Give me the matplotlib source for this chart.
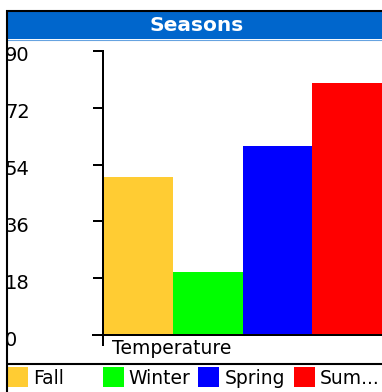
import matplotlib
matplotlib.use("Agg")
import matplotlib.pyplot as plt
import matplotlib.transforms as mtransforms
from matplotlib.patches import Rectangle

W, H = 382, 392

title = "Seasons"
series_name = "Temperature"
seasons = ["Fall", "Winter", "Spring", "Sum..."]
temps = [50, 20, 60, 80]
colors = ["#FFCC33", "#00FF00", "#0000FF", "#FF0000"]
yticks = [0, 18, 36, 54, 72, 90]

plt.rcParams["font.family"] = "DejaVu Sans"

fig = plt.figure(figsize=(W / 100, H / 100), dpi=100)
fig.patch.set_facecolor("white")


def overlay(z):
    # full-figure axes in pixel units, y pointing down
    a = fig.add_axes([0, 0, 1, 1], zorder=z)
    a.set_xlim(0, W)
    a.set_ylim(H, 0)
    a.axis("off")
    a.patch.set_alpha(0)
    return a


bg = overlay(0)

# title bar
bg.add_patch(Rectangle((7, 11), W - 7, 28, facecolor="#0066CC", edgecolor="none"))
bg.plot([7, W], [39.5, 39.5], color="#66A3E0", lw=0.8)
bg.text(197, 25, title, color="white", fontsize=14.5, fontweight="bold",
        ha="center", va="center")

# series label and separator
bg.text(112, 349, series_name, fontsize=13.5, ha="left", va="center")
bg.plot([6, W], [364, 364], color="black", lw=1.5, solid_capstyle="butt")

# legend in fixed-width slots
for i, (name, c) in enumerate(zip(seasons, colors)):
    x0 = 7 + i * 95.7
    bg.add_patch(Rectangle((x0, 367), 21, 20, facecolor=c, edgecolor="none"))
    bg.text(x0 + 26, 378, name, fontsize=13.5, ha="left", va="center")

# main chart
ax = fig.add_axes([103 / W, (H - 335) / H, (W - 103) / W, (335 - 51) / H], zorder=1)
ax.patch.set_alpha(0)
ax.bar(range(len(temps)), temps, width=1.0, color=colors, edgecolor="none")
ax.set_xlim(-0.5, len(temps) - 0.5)
ax.set_ylim(0, 90)
ax.set_xticks([])
ax.set_yticks(yticks)
ax.set_yticklabels([])
ax.tick_params(axis="y", direction="out", length=7.2, width=1.44)
for s in ["top", "right"]:
    ax.spines[s].set_visible(False)
ax.spines["left"].set_linewidth(1.44)
ax.spines["bottom"].set_linewidth(1.44)
ax.spines["left"].set_bounds(-3.2, 90)
ax.spines["bottom"].set_bounds(-0.5 - 10 / 69.75, len(temps) - 0.5)

# y labels flush with the left edge, a little below their ticks
lab_tr = mtransforms.offset_copy(
    mtransforms.blended_transform_factory(fig.transFigure, ax.transData),
    fig=fig, y=-3, units="dots")
for v in yticks:
    ax.text(5 / W, v, str(v), transform=lab_tr, fontsize=14,
            ha="left", va="center_baseline", clip_on=False)

# frame: white margin on top/left with black border
top = overlay(2)
top.add_patch(Rectangle((0, 0), 6, H, facecolor="white", edgecolor="none"))
top.add_patch(Rectangle((0, 0), W, 10, facecolor="white", edgecolor="none"))
top.plot([6.5, 6.5], [10, H], color="black", lw=1.5, solid_capstyle="butt")
top.plot([6, W], [10.5, 10.5], color="black", lw=1.5, solid_capstyle="butt")

fig.savefig("out.png", dpi=100)
